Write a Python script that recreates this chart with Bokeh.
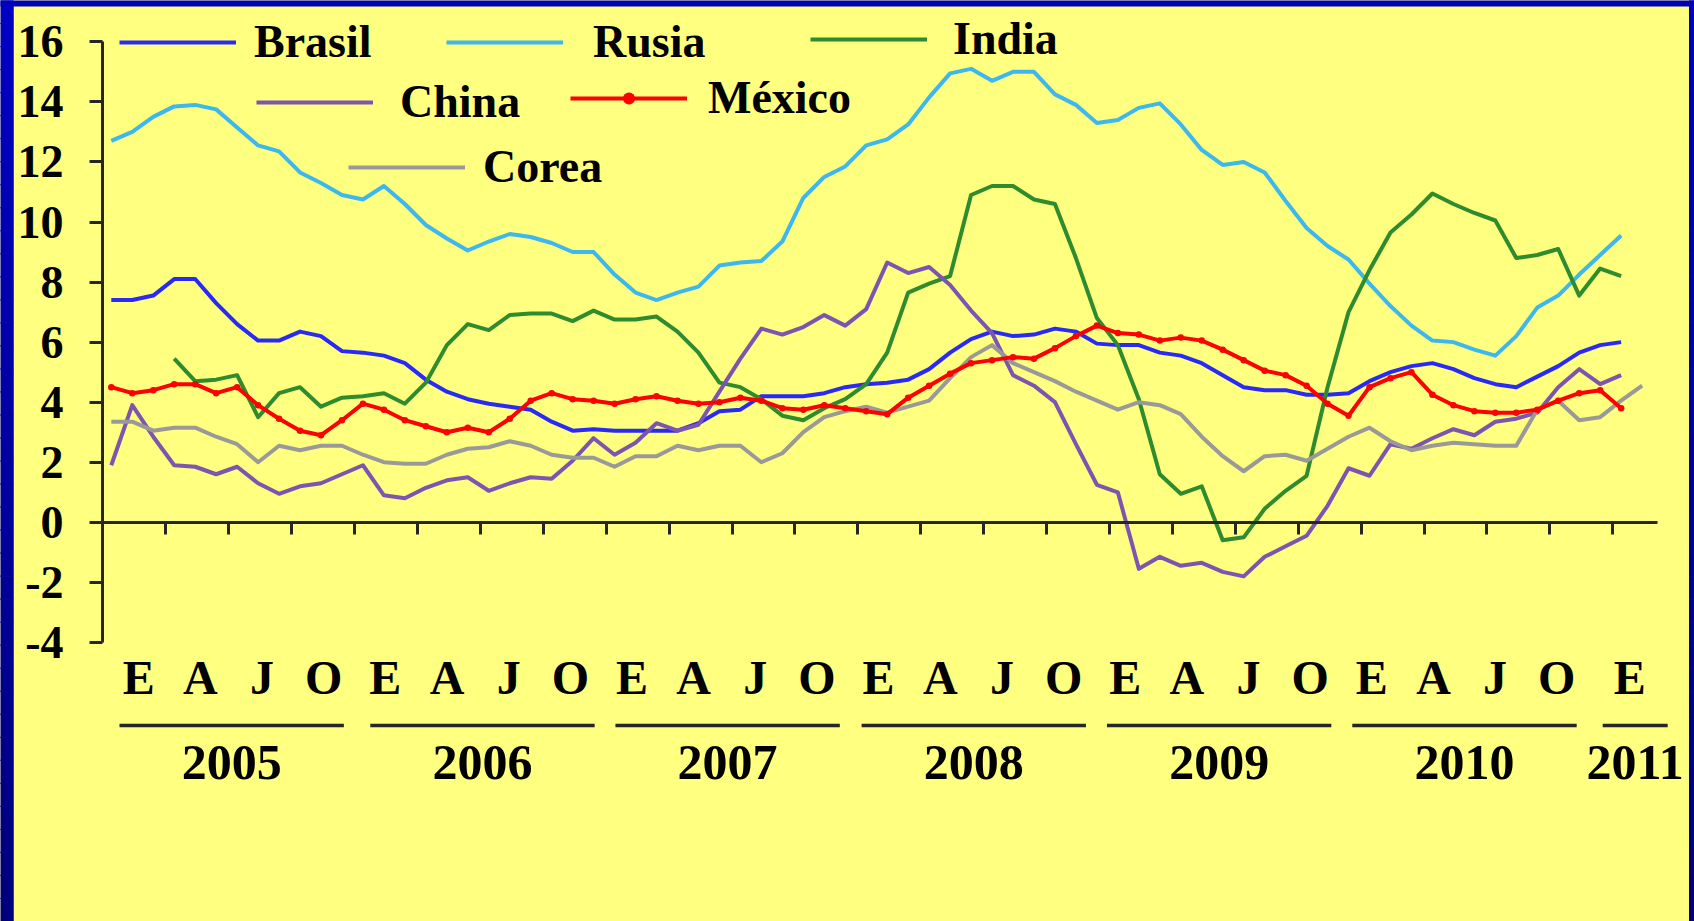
from bokeh.plotting import figure
from bokeh.models import LinearAxis, FixedTicker, Legend, LegendItem, Range1d
from bokeh.embed import file_html
from bokeh.resources import INLINE

# Inflación anual (%), datos mensuales desde enero de 2005 (mes 0)
brasil = [7.4, 7.4, 7.55, 8.1, 8.1, 7.3, 6.6, 6.05, 6.05, 6.35, 6.2, 5.7,
          5.65, 5.55, 5.3, 4.75, 4.35, 4.1, 3.95, 3.85, 3.75, 3.35, 3.05, 3.1,
          3.05, 3.05, 3.05, 3.05, 3.3, 3.7, 3.75, 4.2, 4.2, 4.2, 4.3, 4.5,
          4.6, 4.65, 4.75, 5.1, 5.65, 6.1, 6.35, 6.2, 6.25, 6.45, 6.35, 5.95,
          5.9, 5.9, 5.65, 5.55, 5.3, 4.9, 4.5, 4.4, 4.4, 4.25, 4.25, 4.3,
          4.7, 5.0, 5.2, 5.3, 5.1, 4.8, 4.6, 4.5, 4.85, 5.2, 5.65, 5.9,
          6.0]
rusia = [12.7, 13.0, 13.5, 13.85, 13.9, 13.75, 13.15, 12.55, 12.35, 11.65, 11.3, 10.9,
         10.75, 11.2, 10.6, 9.9, 9.45, 9.05, 9.35, 9.6, 9.5, 9.3, 9.0, 9.0,
         8.25, 7.65, 7.4, 7.65, 7.85, 8.55, 8.65, 8.7, 9.35, 10.8, 11.5, 11.85,
         12.55, 12.75, 13.25, 14.15, 14.95, 15.1, 14.7, 15.0, 15.0, 14.25, 13.9, 13.3,
         13.4, 13.8, 13.95, 13.25, 12.4, 11.9, 12.0, 11.65, 10.7, 9.8, 9.2, 8.75,
         7.95, 7.2, 6.55, 6.05, 6.0, 5.75, 5.55, 6.2, 7.15, 7.55, 8.25, 8.9,
         9.55]
# India empieza en abril de 2005 (mes 3)
india_start = 3
india = [5.45, 4.7, 4.75, 4.9, 3.5, 4.3, 4.5, 3.85, 4.15,
         4.2, 4.3, 3.95, 4.65, 5.9, 6.6, 6.4, 6.9, 6.95, 6.95, 6.7, 7.05,
         6.75, 6.75, 6.85, 6.35, 5.65, 4.65, 4.5, 4.1, 3.55, 3.4, 3.8, 4.1,
         4.6, 5.65, 7.65, 7.95, 8.2, 10.9, 11.2, 11.2, 10.75, 10.6, 8.8, 6.8,
         5.9, 4.1, 1.6, 0.95, 1.2, -0.6, -0.5, 0.45, 1.05, 1.55, 4.5, 7.0,
         8.4, 9.65, 10.25, 10.95, 10.6, 10.3, 10.05, 8.8, 8.9, 9.1, 7.55, 8.45,
         8.2]
china = [1.9, 3.9, 2.85, 1.9, 1.85, 1.6, 1.85, 1.3, 0.95, 1.2, 1.3, 1.6,
         1.9, 0.9, 0.8, 1.15, 1.4, 1.5, 1.05, 1.3, 1.5, 1.45, 2.05, 2.8,
         2.25, 2.65, 3.3, 3.05, 3.25, 4.35, 5.45, 6.45, 6.25, 6.5, 6.9, 6.55,
         7.1, 8.65, 8.3, 8.5, 7.9, 7.05, 6.3, 4.9, 4.55, 4.0, 2.6, 1.25,
         1.0, -1.55, -1.15, -1.45, -1.35, -1.65, -1.8, -1.15, -0.8, -0.45, 0.55, 1.8,
         1.55, 2.6, 2.45, 2.8, 3.1, 2.9, 3.35, 3.45, 3.65, 4.5, 5.1, 4.6,
         4.9]
mexico = [4.5, 4.3, 4.4, 4.6, 4.6, 4.3, 4.5, 3.9, 3.45, 3.05, 2.9, 3.4,
          3.95, 3.75, 3.4, 3.2, 3.0, 3.15, 3.0, 3.45, 4.05, 4.3, 4.1, 4.05,
          3.95, 4.1, 4.2, 4.05, 3.95, 4.0, 4.15, 4.05, 3.8, 3.75, 3.9, 3.8,
          3.7, 3.6, 4.15, 4.55, 4.95, 5.3, 5.4, 5.5, 5.45, 5.8, 6.2, 6.55,
          6.3, 6.25, 6.05, 6.15, 6.05, 5.75, 5.4, 5.05, 4.9, 4.55, 3.95, 3.55,
          4.5, 4.8, 5.0, 4.25, 3.9, 3.7, 3.65, 3.65, 3.75, 4.05, 4.3, 4.4,
          3.8]
corea = [3.35, 3.35, 3.05, 3.15, 3.15, 2.85, 2.6, 2.0, 2.55, 2.4, 2.55, 2.55,
         2.25, 2.0, 1.95, 1.95, 2.25, 2.45, 2.5, 2.7, 2.55, 2.25, 2.15, 2.15,
         1.85, 2.2, 2.2, 2.55, 2.4, 2.55, 2.55, 2.0, 2.3, 3.0, 3.5, 3.7,
         3.85, 3.65, 3.85, 4.05, 4.8, 5.5, 5.9, 5.3, 5.0, 4.7, 4.35, 4.05,
         3.75, 4.0, 3.9, 3.6, 2.85, 2.2, 1.7, 2.2, 2.25, 2.05, 2.45, 2.85,
         3.15, 2.7, 2.4, 2.55, 2.65, 2.6, 2.55, 2.55, 3.75, 4.05, 3.4, 3.5,
         4.05, 4.55]

month_labels = ["E", "A", "J", "O"] * 6 + ["E"]
year_labels = ["2005", "2006", "2007", "2008", "2009", "2010", "2011"]
y_ticks = [-4, -2, 0, 2, 4, 6, 8, 10, 12, 14, 16]

# ---- layout -------------------------------------------------------------
W, H = 1694, 921
X0_PX, PX_PER_MONTH = 110.8, 20.97      # screen x of month 0, px per month
Y0_PX, PX_PER_UNIT = 521.8, 30.03       # screen y of value 0, px per point
x_start = -X0_PX / PX_PER_MONTH
x_end = (W - X0_PX) / PX_PER_MONTH
y_end = Y0_PX / PX_PER_UNIT
y_start = -(H - Y0_PX) / PX_PER_UNIT


def xd(px):
    return x_start + px / PX_PER_MONTH


def yd(px):
    return y_end - px / PX_PER_UNIT


YELLOW = "#FFFF80"
AXIS = "#262626"
FONT = "Liberation Serif"

p = figure(width=W, height=H, output_backend="svg", toolbar_location=None,
           x_axis_type=None, y_axis_type=None,
           x_range=Range1d(x_start, x_end), y_range=Range1d(y_start, y_end),
           min_border=0, background_fill_color=YELLOW, border_fill_color=YELLOW,
           outline_line_color=None)
p.xgrid.visible = False
p.ygrid.visible = False

y_axis_x = xd(102)
x_axis_end = xd(1657)

# vertical axis (plain hyphen for negatives)
yax = LinearAxis(fixed_location=y_axis_x, bounds=(-4, 16),
                 ticker=FixedTicker(ticks=y_ticks),
                 major_label_overrides={t: str(t) for t in y_ticks},
                 axis_line_color=AXIS, axis_line_width=3,
                 major_tick_line_color=AXIS, major_tick_line_width=3,
                 major_tick_in=0, major_tick_out=13,
                 minor_tick_line_color=None,
                 major_label_standoff=26,
                 major_label_text_font=FONT, major_label_text_font_style="bold",
                 major_label_text_font_size="46px", major_label_text_color="black")
p.add_layout(yax, "left")

# horizontal axis at zero, ticks between quarters
quarter_ticks = [round(2.6 + 3 * k, 2) for k in range(24)]
xax = LinearAxis(fixed_location=0, bounds=(y_axis_x, x_axis_end),
                 ticker=FixedTicker(ticks=quarter_ticks),
                 axis_line_color=AXIS, axis_line_width=3,
                 major_tick_line_color=AXIS, major_tick_line_width=3,
                 major_tick_in=0, major_tick_out=12,
                 minor_tick_line_color=None,
                 major_label_overrides={t: "" for t in quarter_ticks})
p.add_layout(xax, "below")

# month initials
month_pos = [round(1.31 + 2.94 * k, 2) for k in range(24)] + [72.41]
max_ = LinearAxis(fixed_location=0, ticker=FixedTicker(ticks=month_pos),
                  axis_line_color=None, major_tick_line_color=None,
                  minor_tick_line_color=None, major_label_standoff=123,
                  major_label_overrides=dict(zip(month_pos, month_labels)),
                  major_label_text_font=FONT, major_label_text_font_style="bold",
                  major_label_text_font_size="48px", major_label_text_color="black")
p.add_layout(max_, "below")

# years
year_pos = [5.74, 17.70, 29.39, 41.13, 52.83, 64.53, 72.67]
yr = LinearAxis(fixed_location=0, ticker=FixedTicker(ticks=year_pos),
                axis_line_color=None, major_tick_line_color=None,
                minor_tick_line_color=None, major_label_standoff=218,
                major_label_overrides=dict(zip(year_pos, year_labels)),
                major_label_text_font=FONT, major_label_text_font_style="bold",
                major_label_text_font_size="50px", major_label_text_color="black")
p.add_layout(yr, "below")

# rules above the years
half = [5.35] * 6 + [1.55]
p.segment(x0=[c - h for c, h in zip(year_pos, half)],
          x1=[c + h for c, h in zip(year_pos, half)],
          y0=yd(725), y1=yd(725), line_color=AXIS, line_width=3.5)

# ---- series -------------------------------------------------------------
months = list(range(len(brasil)))
LW = 4
r_bra = p.line(months, brasil, line_color="#2A2AF8", line_width=LW, line_join="round")
r_rus = p.line(months, rusia, line_color="#3DB8EE", line_width=LW, line_join="round")
r_ind = p.line(list(range(india_start, india_start + len(india))), india,
               line_color="#2E8B2E", line_width=LW, line_join="round")
r_chi = p.line(months, china, line_color="#7D55B0", line_width=LW, line_join="round")
r_cor = p.line(list(range(len(corea))), corea, line_color="#999999",
               line_width=LW, line_join="round")
r_mex = p.line(months, mexico, line_color="#FF0000", line_width=LW, line_join="round")
r_mex_pts = p.scatter(months, mexico, size=6.5, marker="circle",
                      fill_color="#FF0000", line_color=None)

# ---- legend -------------------------------------------------------------
legend_spec = [
    ("Brasil", [r_bra], 119, 42, 18, 52),
    ("Rusia", [r_rus], 446, 42, 30, 52),
    ("India", [r_ind], 810, 39, 26, 52),
    ("China", [r_chi], 256, 102, 27, 52),
    ("México", [r_mex, r_mex_pts], 570, 98, 21, 30),
    ("Corea", [r_cor], 348, 167, 18, 52),
]
ITEM_H = 52
for label, rends, left_px, mid_px, standoff, gh in legend_spec:
    lg = Legend(items=[LegendItem(label=label, renderers=rends)],
                location=(left_px, H - (mid_px + ITEM_H / 2)),
                orientation="horizontal", margin=0, padding=0, spacing=0,
                glyph_width=117, glyph_height=gh, label_height=ITEM_H,
                label_standoff=standoff,
                label_text_font=FONT, label_text_font_style="bold",
                label_text_font_size="46px", label_text_color="black",
                border_line_color=None, background_fill_alpha=0)
    p.add_layout(lg, "center")

# ---- blue frame around the slide ---------------------------------------
N = 40
tops = [yd(i * H / N) for i in range(N)]
bots = [yd((i + 1) * H / N) for i in range(N)]
shades = ["#%02x%02x%02x" % (0, 0, int(196 - 70 * i / (N - 1))) for i in range(N)]
p.quad(left=xd(-2), right=xd(12.7), top=tops, bottom=bots,
       fill_color=shades, line_color=shades, line_width=1)
p.quad(left=xd(1689), right=xd(W + 2), top=tops, bottom=bots,
       fill_color=shades, line_color=shades, line_width=1)
p.quad(left=xd(-2), right=xd(W + 2), top=yd(-2), bottom=yd(6),
       fill_color="#0000B8", line_color=None)

open("out.html", "w").write(file_html(p, INLINE))
